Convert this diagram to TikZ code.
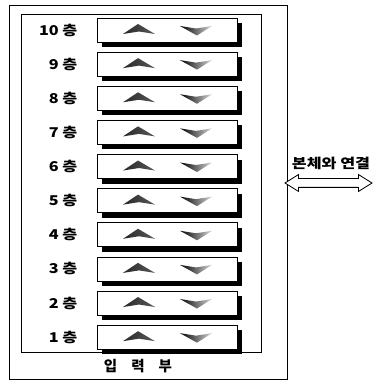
\documentclass[tikz,border=0pt]{standalone}
\usepackage{fontspec}
\usepackage{graphicx}
\newfontfamily\kor{Noto Sans CJK KR}
\newcommand{\widetxt}[1]{\scalebox{1.2}[1]{#1}}
\usetikzlibrary{positioning, shapes.arrows, shadows}

\begin{document}
\begin{tikzpicture}[
    x=1pt, y=1pt,
    node distance=9.33pt,
    panel/.style={rectangle, draw, line width=0.8pt},
    floor/.style={inner sep=0pt, font=\kor\bfseries\fontsize{13.5}{15}\selectfont},
    button/.style={rectangle, draw, line width=0.8pt, fill=white,
                   minimum width=140pt, minimum height=24pt,
                   general shadow={fill=black, shadow xshift=5pt, shadow yshift=-5pt},
                   path picture={
                     \fill[shift={(path picture bounding box.center)}, left color=black, right color=gray!30]
                       (-44,-4) -- (-29,6) -- (-12,-4) -- (-28,-1.5) -- cycle;
                     \fill[shift={(path picture bounding box.center)}, left color=black, right color=gray!30]
                       (13,4) -- (29,1.5) -- (45,4) -- (30,-5.5) -- cycle;
                   }},
    link/.style={double arrow, draw, line width=0.8pt, fill=white, inner sep=0pt,
                 inner ysep=4pt, minimum width=16pt, double arrow head extend=4pt,
                 double arrow tip angle=64},
]
\useasboundingbox (0,0) rectangle (376,381);

% Frames
\node[panel, minimum width=278pt, minimum height=374pt] (outer) at (148,189) {};
\node[panel, minimum width=240pt, minimum height=338pt] (inner) at (141,198) {};

% Floor buttons
\node[button] (b10) at (167,351) {};
\node[button, below=of b10] (b9) {};
\node[button, below=of b9] (b8) {};
\node[button, below=of b8] (b7) {};
\node[button, below=of b7] (b6) {};
\node[button, below=of b6] (b5) {};
\node[button, below=of b5] (b4) {};
\node[button, below=of b4] (b3) {};
\node[button, below=of b3] (b2) {};
\node[button, below=of b2] (b1) {};

% Floor labels
\node[floor, left=19pt of b10] (l10) {\widetxt{10 층}};
\node[floor, left=19pt of b9] (l9) {\widetxt{9 층}};
\node[floor, left=19pt of b8] (l8) {\widetxt{8 층}};
\node[floor, left=19pt of b7] (l7) {\widetxt{7 층}};
\node[floor, left=19pt of b6] (l6) {\widetxt{6 층}};
\node[floor, left=19pt of b5] (l5) {\widetxt{5 층}};
\node[floor, left=19pt of b4] (l4) {\widetxt{4 층}};
\node[floor, left=19pt of b3] (l3) {\widetxt{3 층}};
\node[floor, left=19pt of b2] (l2) {\widetxt{2 층}};
\node[floor, left=19pt of b1] (l1) {\widetxt{1 층}};

% Unit name
\node[floor, font=\kor\bfseries\fontsize{14.5}{16}\selectfont] (unit) at (138,15)
  {입\hspace{14pt}력\hspace{14pt}부};

% Link to main body
\node[floor] (linktext) at (331,218) {\widetxt{본체와 연결}};
\node[link, minimum height=87pt] (link) at (328.5,198) {};

\end{tikzpicture}
\end{document}
